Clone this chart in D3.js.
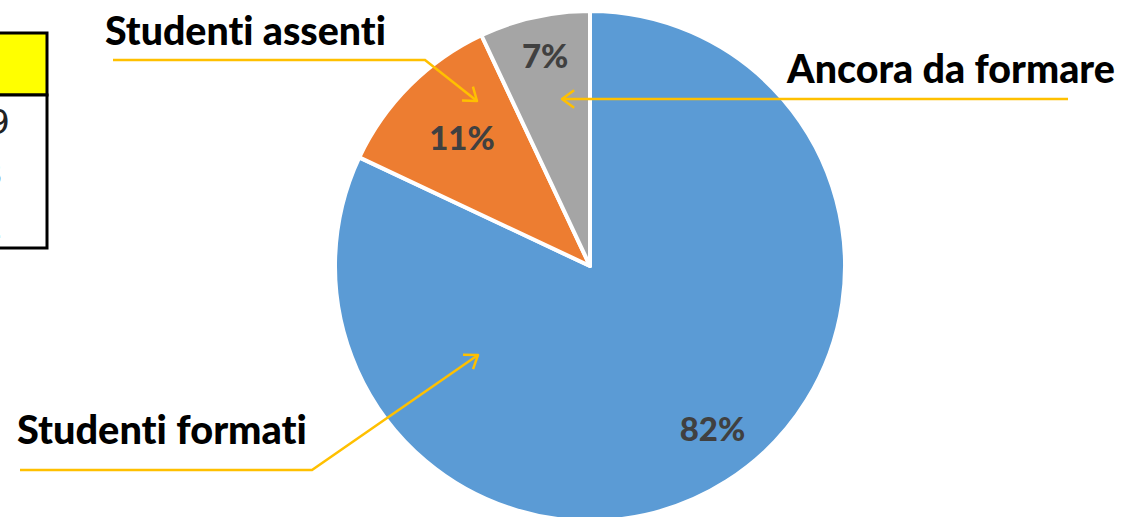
<!DOCTYPE html>
<html>
<head>
<meta charset="utf-8">
<script src="https://cdn.jsdelivr.net/npm/d3@7"></script>
<style>
  html, body { margin: 0; padding: 0; background: #fff; }
  svg { display: block; }
  text { font-variant-ligatures: none; font-feature-settings: "liga" 0, "clig" 0; }
</style>
</head>
<body>
<svg id="chart"></svg>
<script>
// data
const categories = ["Studenti formati", "Studenti assenti", "Ancora da formare"];
const percentages = [82, 11, 7];
const sliceColors = ["#5B9BD5", "#ED7D31", "#A5A5A5"];
// cut-off table on the left edge (only the last digits show)
const tableValues = ["1229", "183", "31"];

const width = 1124, height = 517;
const cx = 590, cy = 266, radius = 255;
// where the percentage label sits in each slice
const labelRadius = [0.8, 0.71, 0.84];
const labelShift = [-4.5, 0, 0.5]; // degrees

const svg = d3.select("#chart")
    .attr("width", width)
    .attr("height", height);

// scale a text so that it fills a given width
function fitText(sel, targetWidth) {
  const w = sel.node().getComputedTextLength();
  const fs = parseFloat(sel.style("font-size"));
  sel.style("font-size", (fs * targetWidth / w) + "px");
}

// ---- table fragment ----
const table = svg.append("g");
table.append("rect")
    .attr("x", -10).attr("y", 33).attr("width", 57).attr("height", 62)
    .attr("fill", "#FFFF00").attr("stroke", "#000").attr("stroke-width", 3);
table.append("rect")
    .attr("x", -10).attr("y", 95).attr("width", 57).attr("height", 153)
    .attr("fill", "#fff").attr("stroke", "#000").attr("stroke-width", 3);
table.selectAll("text.cell")
    .data(tableValues)
    .join("text")
    .attr("class", "cell")
    .attr("x", (d, i) => i === 0 ? 10 : 3)
    .attr("y", (d, i) => 134 + i * 52)
    .attr("text-anchor", "end")
    .style("font-family", "'DejaVu Sans', sans-serif")
    .style("font-size", "34px")
    .style("fill", "#222")
    .text(d => d);

// ---- pie ----
const pie = d3.pie().sort(null).value(d => d)(percentages);
const arc = d3.arc().innerRadius(0).outerRadius(radius);

const g = svg.append("g").attr("transform", `translate(${cx},${cy})`);

g.selectAll("path.slice")
    .data(pie)
    .join("path")
    .attr("class", "slice")
    .attr("d", arc)
    .attr("fill", (d, i) => sliceColors[i])
    .attr("stroke", "#fff")
    .attr("stroke-width", 4)
    .attr("stroke-linejoin", "round");

g.selectAll("text.pct")
    .data(pie)
    .join("text")
    .attr("class", "pct")
    .attr("transform", (d, i) => {
      const r = radius * labelRadius[i];
      const a = (d.startAngle + d.endAngle) / 2 + labelShift[i] * Math.PI / 180;
      return `translate(${r * Math.sin(a)},${-r * Math.cos(a)})`;
    })
    .attr("text-anchor", "middle")
    .attr("dy", "0.36em")
    .style("font-family", "Lato, 'Open Sans', sans-serif")
    .style("font-weight", 900)
    .style("font-size", "33px")
    .style("fill", "#404040")
    .text(d => d.data + "%");

// ---- callouts ----
const lineColor = "#FFC000";
const callouts = [
  {text: categories[0], tx: 17, ty: 444, tw: 290, path: [[20, 470], [312, 470], [478, 355]]},
  {text: categories[1], tx: 105, ty: 45, tw: 281, path: [[113, 60], [425, 60], [477, 101]]},
  {text: categories[2], tx: 787, ty: 83, tw: 328, path: [[1068, 99], [562, 99]]}
];

const line = d3.line();
const ann = svg.append("g");

callouts.forEach(c => {
  ann.append("path")
      .attr("d", line(c.path))
      .attr("fill", "none")
      .attr("stroke", lineColor)
      .attr("stroke-width", 2.5);

  // open arrow head at the last point
  const [x1, y1] = c.path[c.path.length - 2];
  const [x2, y2] = c.path[c.path.length - 1];
  const a = Math.atan2(y2 - y1, x2 - x1);
  const len = 15, spread = Math.PI / 5;
  const p1 = [x2 - len * Math.cos(a - spread), y2 - len * Math.sin(a - spread)];
  const p2 = [x2 - len * Math.cos(a + spread), y2 - len * Math.sin(a + spread)];
  ann.append("path")
      .attr("d", line([p1, [x2, y2], p2]))
      .attr("fill", "none")
      .attr("stroke", lineColor)
      .attr("stroke-width", 2.5)
      .attr("stroke-linejoin", "round");

  const t = ann.append("text")
      .attr("x", c.tx)
      .attr("y", c.ty)
      .style("font-family", "Lato, 'Open Sans', sans-serif")
      .style("font-weight", 900)
      .style("font-size", "34px")
      .style("fill", "#000")
      .text(c.text);
  fitText(t, c.tw);
});
</script>
</body>
</html>
